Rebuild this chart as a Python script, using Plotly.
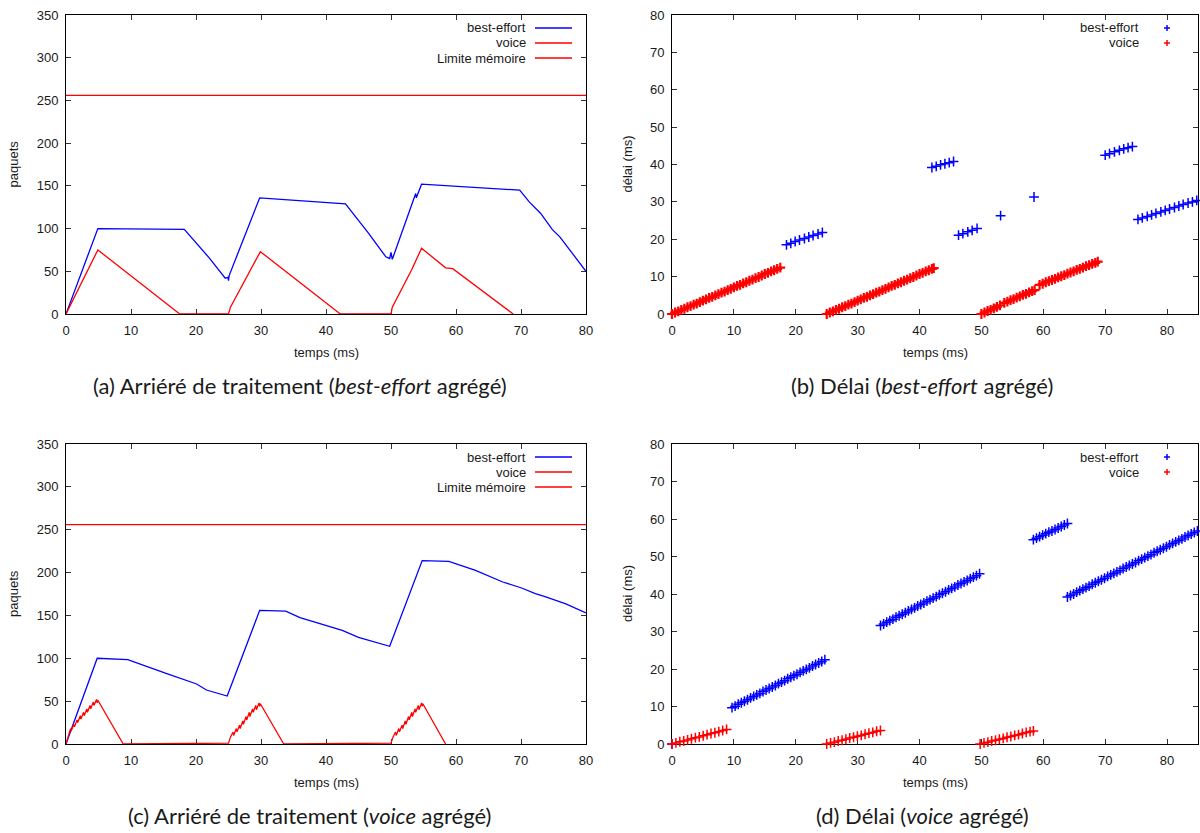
import plotly.graph_objects as go

# ---------------- data ----------------
# (a) backlog, best-effort aggregated
be_a_t = [0, 4.9, 18.2, 22.0, 24.5, 24.9, 25.0, 25.1, 29.8, 43.0, 46.5, 49.2, 49.8, 50.0, 50.2,
          53.6, 53.8, 53.9, 54.7, 69.8, 71.3, 73.0, 74.8, 76.0, 80.0]
be_a_q = [0, 100, 99, 66, 42, 43, 39, 45, 136, 129, 95, 67, 65, 72, 64,
          136, 141, 136, 152, 145, 131, 118, 99, 90, 50]
vo_a_t = [0, 4.9, 17.5, 25.0, 25.3, 29.9, 42.2, 50.0, 50.2, 53.2, 54.7, 58.4, 59.5, 68.8]
vo_a_q = [0, 75, 0, 0, 8, 73, 0, 0, 8, 52, 77, 54, 53, 0]
lim_t = [0, 80]
lim_q = [256, 256]

# (c) backlog, voice aggregated
be_c_t = [0, 4.8, 9.5, 10.9, 15.5, 20.1, 21.6, 24.8, 29.8, 33.8, 36.0, 42.5, 45.0, 49.8,
          54.8, 58.9, 63.0, 67.2, 70.1, 72.2, 73.7, 76.9, 80.0]
be_c_q = [0, 100, 98.5, 94.5, 82, 70, 63, 56, 156, 155, 147.5, 132.5, 124.5, 114,
          214, 213, 202.5, 189, 182, 175.5, 172, 163.5, 153]
vo_c_t = [0, 0.4, 0.7, 0.8, 1.2, 1.3, 1.7, 1.8, 2.2, 2.3, 2.7, 2.8, 3.2, 3.3, 3.7, 3.8, 4.2, 4.3, 4.7, 4.8, 4.9,
          8.8, 24.9,
          25.0, 25.3, 25.7, 25.8, 26.2, 26.3, 26.7, 26.8, 27.2, 27.3, 27.7, 27.8, 28.2, 28.3, 28.7, 28.8, 29.2, 29.3, 29.7, 29.8, 29.9,
          33.5, 49.9,
          50.0, 50.3, 50.7, 50.8, 51.2, 51.3, 51.7, 51.8, 52.2, 52.3, 52.7, 52.8, 53.2, 53.3, 53.7, 53.8, 54.2, 54.3, 54.7, 54.8, 54.9,
          58.4]
vo_c_q = [0, 12, 18, 15, 23, 20, 28, 25, 33, 29, 37, 33, 41, 37, 45, 41, 49, 45, 52, 48, 51,
          0, 1,
          1, 8, 14, 10, 18, 14, 22, 18, 27, 23, 32, 28, 37, 32, 41, 37, 45, 40, 48, 44, 47,
          0, 1,
          1, 8, 14, 10, 18, 14, 22, 18, 27, 23, 32, 28, 37, 32, 41, 37, 45, 40, 48, 44, 47,
          0]

# (b) delay, best-effort aggregated
be_b_t = [0,
          18.5, 19.2, 19.9, 20.6, 21.4, 22.1, 22.8, 23.6, 24.3,
          42.0, 42.7, 43.4, 44.1, 44.8, 45.5,
          46.3, 47.0, 47.8, 48.5, 49.3,
          53.1, 58.5,
          70.0, 70.7, 71.5, 72.3, 73.0, 73.7, 74.4,
          75.3, 76.0, 76.8, 77.5, 78.2, 79.0, 79.7, 80.4, 81.2, 81.9, 82.6, 83.4, 84.1, 84.8]
be_b_d = [0,
          18.5, 18.9, 19.4, 19.8, 20.2, 20.6, 21.0, 21.4, 21.8,
          39.2, 39.5, 39.9, 40.2, 40.5, 40.8,
          21.1, 21.5, 22.0, 22.4, 22.9,
          26.3, 31.3,
          42.5, 42.9, 43.4, 43.8, 44.2, 44.5, 44.8,
          25.3, 25.7, 26.1, 26.5, 26.9, 27.3, 27.7, 28.1, 28.5, 28.9, 29.3, 29.7, 30.0, 30.4]
vo_b_t = [0.0, 0.5, 1.0, 1.5, 2.0, 2.5, 3.0, 3.5, 4.0, 4.5, 5.0, 5.5, 6.0, 6.5, 7.0, 7.5, 8.0, 8.5,
          9.0, 9.5, 10.0, 10.5, 11.0, 11.5, 12.0, 12.5, 13.0, 13.5, 14.0, 14.5, 15.0, 15.5, 16.0, 16.5, 17.0, 17.5,
          25.0, 25.5, 26.0, 26.5, 27.0, 27.5, 28.0, 28.5, 29.0, 29.5, 30.0, 30.5, 31.0, 31.5, 32.0, 32.5, 33.0, 33.5,
          34.0, 34.5, 35.0, 35.5, 36.0, 36.5, 37.0, 37.5, 38.0, 38.5, 39.0, 39.5, 40.0, 40.5, 41.0, 41.5, 42.0, 42.3,
          50.0, 50.5, 51.0, 51.5, 52.0, 52.5, 53.0,
          53.7, 54.2, 54.7, 55.2, 55.7, 56.2, 56.7, 57.2, 57.7, 58.2, 58.6,
          59.4, 59.9, 60.4, 60.9, 61.4, 61.9, 62.4, 62.9, 63.4, 63.9, 64.4, 64.9, 65.4, 65.9, 66.4, 66.9, 67.4, 67.9, 68.4, 68.8]
vo_b_d = [0.0, 0.4, 0.7, 1.1, 1.4, 1.8, 2.1, 2.5, 2.8, 3.2, 3.6, 3.9, 4.3, 4.6, 5.0, 5.3, 5.7, 6.0,
          6.4, 6.7, 7.1, 7.5, 7.8, 8.2, 8.5, 8.9, 9.2, 9.6, 9.9, 10.3, 10.7, 11.0, 11.4, 11.7, 12.1, 12.4,
          0.0, 0.4, 0.7, 1.1, 1.4, 1.8, 2.1, 2.5, 2.8, 3.2, 3.6, 3.9, 4.3, 4.6, 5.0, 5.3, 5.7, 6.0,
          6.4, 6.7, 7.1, 7.5, 7.8, 8.2, 8.5, 8.9, 9.2, 9.6, 9.9, 10.3, 10.7, 11.0, 11.4, 11.7, 12.1, 12.3,
          0.0, 0.4, 0.8, 1.1, 1.5, 1.9, 2.3,
          3.0, 3.3, 3.7, 4.0, 4.4, 4.7, 5.1, 5.4, 5.8, 6.1, 6.4,
          7.8, 8.1, 8.5, 8.8, 9.1, 9.4, 9.8, 10.1, 10.4, 10.8, 11.1, 11.4, 11.8, 12.1, 12.4, 12.8, 13.1, 13.4, 13.7, 14.0]

# (d) delay, voice aggregated
be_d_t = [0,
          9.7, 10.2, 10.7, 11.2, 11.7, 12.2, 12.7, 13.2, 13.7, 14.2, 14.7, 15.2, 15.7, 16.2, 16.7, 17.2,
          17.7, 18.2, 18.7, 19.2, 19.7, 20.2, 20.7, 21.2, 21.7, 22.2, 22.7, 23.2, 23.7, 24.2, 24.7,
          33.7, 34.2, 34.7, 35.2, 35.7, 36.2, 36.7, 37.2, 37.7, 38.2, 38.7, 39.2, 39.7, 40.2, 40.7, 41.2,
          41.7, 42.2, 42.7, 43.2, 43.7, 44.2, 44.7, 45.2, 45.7, 46.2, 46.7, 47.2, 47.7, 48.2, 48.7, 49.2, 49.7,
          58.4, 58.9, 59.4, 59.9, 60.4, 60.9, 61.4, 61.9, 62.4, 62.9, 63.4, 63.9,
          63.9, 64.4, 64.9, 65.4, 65.9, 66.4, 66.9, 67.4, 67.9, 68.4, 68.9, 69.4, 69.9, 70.4, 70.9, 71.4,
          71.9, 72.4, 72.9, 73.4, 73.9, 74.4, 74.9, 75.4, 75.9, 76.4, 76.9, 77.4, 77.9, 78.4, 78.9, 79.4,
          79.9, 80.4, 80.9, 81.4, 81.9, 82.4, 82.9, 83.4, 83.9, 84.4, 84.9]
be_d_d = [0,
          9.7, 10.1, 10.6, 11.0, 11.4, 11.8, 12.3, 12.7, 13.1, 13.5, 14.0, 14.4, 14.8, 15.2, 15.6, 16.1,
          16.5, 16.9, 17.4, 17.8, 18.2, 18.6, 19.1, 19.5, 19.9, 20.3, 20.8, 21.2, 21.6, 22.0, 22.5,
          31.6, 32.0, 32.5, 32.9, 33.3, 33.8, 34.2, 34.6, 35.0, 35.5, 35.9, 36.3, 36.8, 37.2, 37.6, 38.1,
          38.5, 38.9, 39.3, 39.8, 40.2, 40.6, 41.1, 41.5, 41.9, 42.4, 42.8, 43.2, 43.6, 44.1, 44.5, 44.9, 45.4,
          54.5, 54.9, 55.3, 55.7, 56.1, 56.5, 56.8, 57.2, 57.6, 58.0, 58.4, 58.8,
          39.2, 39.6, 40.0, 40.5, 40.9, 41.3, 41.7, 42.1, 42.6, 43.0, 43.4, 43.8, 44.2, 44.7, 45.1, 45.5,
          45.9, 46.3, 46.8, 47.2, 47.6, 48.0, 48.4, 48.9, 49.3, 49.7, 50.1, 50.5, 51.0, 51.4, 51.8, 52.2,
          52.6, 53.1, 53.5, 53.9, 54.3, 54.7, 55.2, 55.6, 56.0, 56.4, 56.8]
vo_d_t = [0, 0.63, 1.26, 1.89, 2.52, 3.15, 3.78, 4.41, 5.04, 5.67, 6.3, 6.93, 7.56, 8.19, 8.82,
          25.0, 25.62, 26.24, 26.86, 27.48, 28.1, 28.72, 29.34, 29.96, 30.58, 31.2, 31.82, 32.44, 33.06, 33.68,
          49.8, 50.42, 51.04, 51.66, 52.28, 52.9, 53.52, 54.14, 54.76, 55.38, 56.0, 56.62, 57.24, 57.86, 58.4]
vo_d_d = [0, 0.3, 0.6, 0.8, 1.1, 1.4, 1.7, 1.9, 2.2, 2.5, 2.8, 3.0, 3.3, 3.6, 3.9,
          0, 0.3, 0.5, 0.8, 1.0, 1.3, 1.6, 1.8, 2.1, 2.3, 2.6, 2.9, 3.1, 3.4, 3.6,
          0, 0.3, 0.5, 0.8, 1.0, 1.3, 1.5, 1.8, 2.0, 2.3, 2.5, 2.8, 3.1, 3.3, 3.5]

x_ticks_a = [0, 10, 20, 30, 40, 50, 60, 70, 80]
y_ticks_a = [0, 50, 100, 150, 200, 250, 300, 350]
y_ticks_b = [0, 10, 20, 30, 40, 50, 60, 70, 80]

captions = ["(a) Arriéré de traitement (<i>best-effort</i> agrégé)",
            "(b) Délai (<i>best-effort</i> agrégé)",
            "(c) Arriéré de traitement (<i>voice</i> agrégé)",
            "(d) Délai (<i>voice</i> agrégé)"]

# ---------------- layout helpers ----------------
W, H = 1200, 833
BLUE = "#0000ff"
RED = "#ff0000"
TICKFONT = dict(family="Liberation Sans, Arial, sans-serif", size=13, color="#1a1a1a")
CAPFONT = dict(family="Lato, Open Sans, sans-serif", size=22, color="#1a1a1a")


def fx(p):
    return p / W


def fy(p):
    return 1 - p / H


fig = go.Figure()

LW = 1.3


def line(t, q, color, xa, ya, name):
    fig.add_trace(go.Scatter(x=t, y=q, mode="lines", line=dict(color=color, width=LW),
                             xaxis=xa, yaxis=ya, name=name, showlegend=False))


def pts(t, d, color, xa, ya, name, lw=1.5):
    fig.add_trace(go.Scatter(x=t, y=d, mode="markers",
                             marker=dict(symbol="cross-thin", size=7, color=color,
                                         line=dict(width=lw, color=color)),
                             xaxis=xa, yaxis=ya, name=name, showlegend=False, cliponaxis=False))


line(be_a_t, be_a_q, BLUE, "x", "y", "best-effort")
line(vo_a_t, vo_a_q, RED, "x", "y", "voice")
line(lim_t, lim_q, RED, "x", "y", "Limite mémoire")
pts(be_b_t, be_b_d, BLUE, "x2", "y2", "best-effort")
pts(vo_b_t, vo_b_d, RED, "x2", "y2", "voice", lw=2.2)
line(be_c_t, be_c_q, BLUE, "x3", "y3", "best-effort")
line(vo_c_t, vo_c_q, RED, "x3", "y3", "voice")
line(lim_t, lim_q, RED, "x3", "y3", "Limite mémoire")
pts(be_d_t, be_d_d, BLUE, "x4", "y4", "best-effort")
pts(vo_d_t, vo_d_d, RED, "x4", "y4", "voice")

axis_common = dict(showline=True, mirror="ticks", linecolor="black", linewidth=1,
                   ticks="inside", ticklen=5, tickwidth=1, tickcolor="#333333",
                   showgrid=False, zeroline=False, tickfont=TICKFONT, layer="below traces",
                   automargin=False)

LEFT = (66, 586)
RIGHT = (672, 1198)
TOP = (15, 314)
BOT = (444, 744)

layout_axes = {}
for i, (xs, ys, xr, yr, yt) in enumerate([
        (LEFT, TOP, [0, 80], [0, 350], y_ticks_a),
        (RIGHT, TOP, [0, 85], [0, 80], y_ticks_b),
        (LEFT, BOT, [0, 80], [0, 350], y_ticks_a),
        (RIGHT, BOT, [0, 85], [0, 80], y_ticks_b)], start=1):
    sx = "" if i == 1 else str(i)
    layout_axes["xaxis" + sx] = dict(axis_common, domain=[fx(xs[0]), fx(xs[1])], range=xr,
                                     tickvals=x_ticks_a, anchor="y" + sx, ticklabelstandoff=4)
    layout_axes["yaxis" + sx] = dict(axis_common, domain=[fy(ys[1]), fy(ys[0])], range=yr,
                                     tickvals=yt, anchor="x" + sx, ticklabelstandoff=4)

fig.update_layout(**layout_axes)

ann = []
shapes = []
TITLEFONT = dict(family="Liberation Sans, Arial, sans-serif", size=13, color="#1a1a1a")
# axis titles
for (xs, ys, ytitle) in [(LEFT, TOP, "paquets"), (RIGHT, TOP, "délai (ms)"),
                         (LEFT, BOT, "paquets"), (RIGHT, BOT, "délai (ms)")]:
    ann.append(dict(text="temps (ms)", x=fx((xs[0] + xs[1]) / 2), y=fy(ys[1] + 38),
                    xref="paper", yref="paper", showarrow=False, font=TITLEFONT,
                    xanchor="center", yanchor="middle"))
    ann.append(dict(text=ytitle, x=fx(xs[0] - 53 if xs[0] < 100 else xs[0] - 45),
                    y=fy((ys[0] + ys[1]) / 2), xref="paper", yref="paper", showarrow=False,
                    font=TITLEFONT, textangle=-90, xanchor="center", yanchor="middle"))

# captions
for cap, cx, cy in zip(captions, [300, 922, 309, 922], [385, 385, 815, 815]):
    ann.append(dict(text=cap, x=fx(cx), y=fy(cy), xref="paper", yref="paper", showarrow=False,
                    font=CAPFONT, xanchor="center", yanchor="middle"))

# legends (gnuplot style: text right-aligned, sample on the right)
for top in (TOP[0], BOT[0]):
    rows = [("best-effort", BLUE), ("voice", RED), ("Limite mémoire", RED)]
    for k, (lab, col) in enumerate(rows):
        yy = top + 13 + 15 * k
        ann.append(dict(text=lab, x=fx(528), y=fy(yy), xref="paper", yref="paper",
                        showarrow=False, font=TITLEFONT, xanchor="right", yanchor="middle"))
        shapes.append(dict(type="line", xref="paper", yref="paper", x0=fx(535), x1=fx(572),
                           y0=fy(yy), y1=fy(yy), line=dict(color=col, width=LW)))
    rows = [("best-effort", BLUE), ("voice", RED)]
    for k, (lab, col) in enumerate(rows):
        yy = top + 13 + 15 * k
        ann.append(dict(text=lab, x=fx(1141), y=fy(yy), xref="paper", yref="paper",
                        showarrow=False, font=TITLEFONT, xanchor="right", yanchor="middle"))
        shapes.append(dict(type="line", xref="paper", yref="paper", x0=fx(1164), x1=fx(1170),
                           y0=fy(yy), y1=fy(yy), line=dict(color=col, width=1.5)))
        shapes.append(dict(type="line", xref="paper", yref="paper", x0=fx(1167), x1=fx(1167),
                           y0=fy(yy - 3), y1=fy(yy + 3), line=dict(color=col, width=1.5)))

fig.update_layout(width=W, height=H, margin=dict(l=0, r=0, t=0, b=0),
                  paper_bgcolor="white", plot_bgcolor="white",
                  annotations=ann, shapes=shapes, showlegend=False)

fig.write_html("out.html", config={"displayModeBar": False},
               post_script="document.body.style.margin='0';document.body.style.padding='0';"
                           "document.body.style.overflow='hidden';")
